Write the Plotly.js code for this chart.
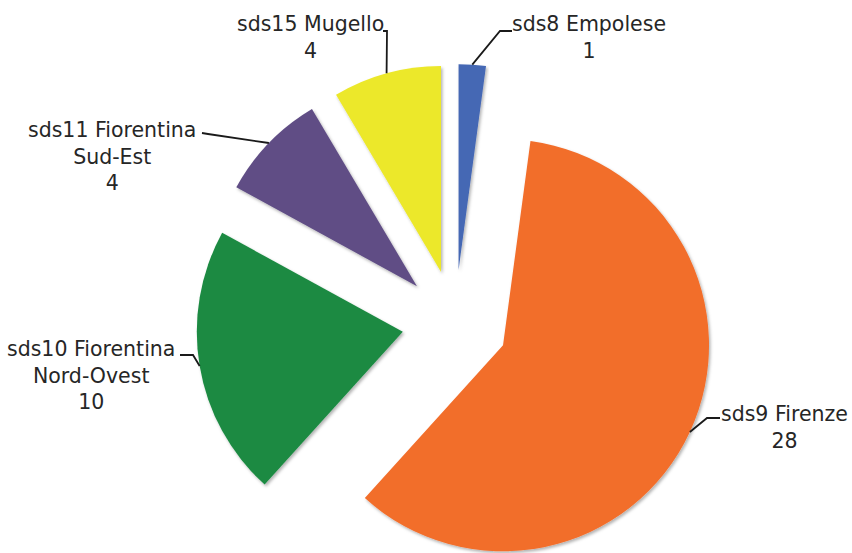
<!DOCTYPE html>
<html>
<head>
<meta charset="utf-8">
<script src="https://cdn.plot.ly/plotly-3.0.1.min.js"></script>
<style>
  html, body { margin: 0; padding: 0; overflow: hidden; background: #fff; }
  #chart { width: 852px; height: 590px; }
</style>
</head>
<body>
<div id="chart"></div>
<script>
// ---- data ----
const categories = ['sds8 Empolese', 'sds9 Firenze', 'sds10 Fiorentina<br>Nord-Ovest', 'sds11 Fiorentina<br>Sud-Est', 'sds15 Mugello'];
const values = [1, 28, 10, 4, 4];
const colors = ['#4467B4', '#F26E2C', '#1B8A42', '#604E85', '#ECE82B'];

// ---- layout geometry (pixels) ----
const W = 852, H = 590;
const CX = 455, CY = 323, R = 206, PULL = 0.257;
const half = R * (1 + PULL);

// label placement: text centre, and leader-line points before the slice edge
const labelSpec = [
  { tx: 589, ty: 38,  lead: [[512, 31], [500, 31]] },
  { tx: 784, ty: 427, lead: [[720, 418], [707, 418]] },
  { tx: 91,  ty: 376, lead: [[180, 355], [193, 355]] },
  { tx: 112, ty: 156, lead: [[202, 133], [208, 134]] },
  { tx: 310, ty: 38,  lead: [[383, 31], [387, 31]] }
];

const px = x => x / W;
const py = y => 1 - y / H;

const total = values.reduce((a, b) => a + b, 0);
let acc = 0;
const annotations = [];
const shapes = [];
values.forEach((v, i) => {
  const mid = (acc + v / 2) / total * 2 * Math.PI;
  acc += v;
  const ex = CX + half * Math.sin(mid);
  const ey = CY - half * Math.cos(mid);
  const s = labelSpec[i];
  const pts = s.lead.concat([[ex, ey]]);
  const path = pts.map((p, k) => (k ? 'L' : 'M') + px(p[0]) + ',' + py(p[1])).join(' ');
  shapes.push({ type: 'path', xref: 'paper', yref: 'paper', path: path,
                line: { color: '#1a1a1a', width: 1.8 } });
  annotations.push({
    xref: 'paper', yref: 'paper', x: px(s.tx), y: py(s.ty),
    xanchor: 'center', yanchor: 'middle', align: 'center', showarrow: false,
    text: categories[i] + '<br>' + v,
    font: { family: 'DejaVu Sans', size: 20.5, color: '#262626' }
  });
});

const trace = {
  type: 'pie',
  labels: categories,
  values: values,
  sort: false,
  direction: 'clockwise',
  rotation: 0,
  pull: values.map(() => PULL),
  marker: { colors: colors, line: { width: 0 } },
  textinfo: 'none',
  hoverinfo: 'label+value',
  showlegend: false,
  domain: {
    x: [px(CX - half - 40), px(CX + half + 40)],
    y: [py(CY + half), py(CY - half)]
  }
};

const layout = {
  width: W, height: H,
  margin: { l: 0, r: 0, t: 0, b: 0 },
  paper_bgcolor: '#ffffff',
  showlegend: false,
  annotations: annotations,
  shapes: shapes
};

Plotly.newPlot('chart', [trace], layout, { displayModeBar: false, staticPlot: true }).then(gd => {
  // soft drop shadow under the slices, as in the original
  const svg = gd.querySelector('svg.main-svg');
  const NS = 'http://www.w3.org/2000/svg';
  let defs = svg.querySelector('defs');
  if (!defs) { defs = document.createElementNS(NS, 'defs'); svg.insertBefore(defs, svg.firstChild); }
  const f = document.createElementNS(NS, 'filter');
  f.setAttribute('id', 'sliceShadow');
  f.setAttribute('x', '-10%'); f.setAttribute('y', '-10%');
  f.setAttribute('width', '120%'); f.setAttribute('height', '120%');
  const ds = document.createElementNS(NS, 'feDropShadow');
  ds.setAttribute('dx', '1.5'); ds.setAttribute('dy', '2');
  ds.setAttribute('stdDeviation', '1.5');
  ds.setAttribute('flood-color', '#000'); ds.setAttribute('flood-opacity', '0.3');
  f.appendChild(ds);
  defs.appendChild(f);
  gd.querySelectorAll('g.slice path.surface').forEach(p => p.setAttribute('filter', 'url(#sliceShadow)'));
});
</script>
</body>
</html>
